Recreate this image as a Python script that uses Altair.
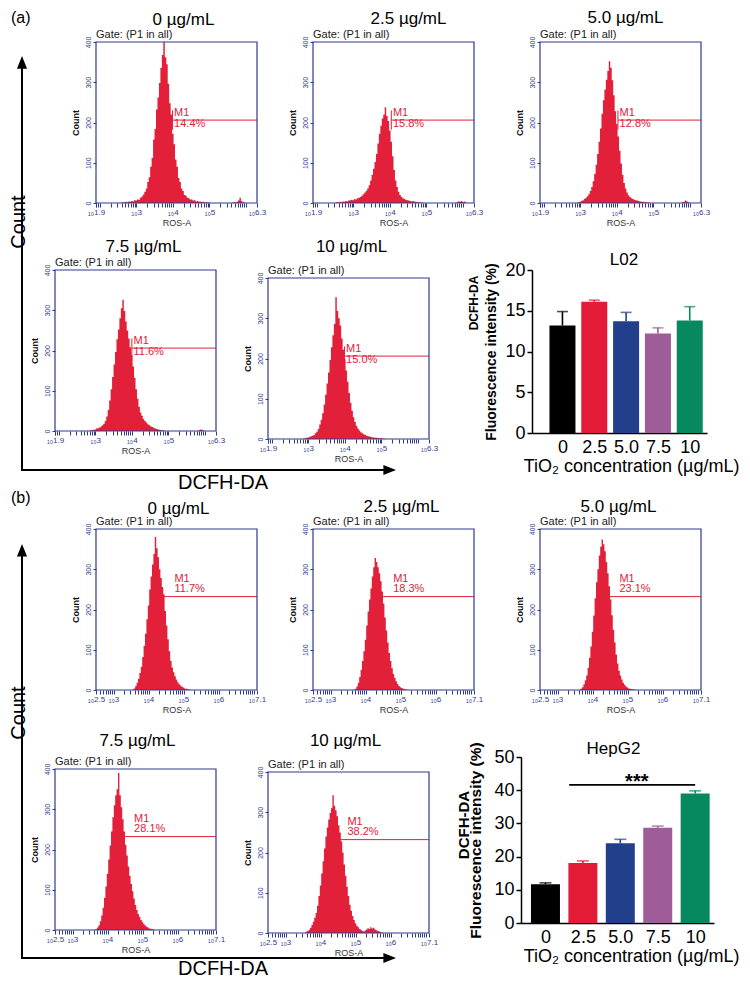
import altair as alt
import pandas as pd
import numpy as np

FONT = "Liberation Sans"
NAVY = "#2e3a8f"
RED = "#e2203a"
BIN = 0.04  # histogram channel width (log10 units)

# ---------------- histogram data (counts per 0.04-decade channel) ----------------
# panel (a): L02, x range 10^1.9 .. 10^6.3
a1_start, a1_counts = 2.60, [1, 2, 1, 3, 2, 4, 3, 5, 4, 7, 6, 9, 8, 13, 16, 21, 28, 36, 52, 64, 90, 112, 158, 184,
                             232, 262, 298, 336, 368, 400, 362, 345, 296, 248, 220, 172, 146, 108, 90, 62, 52, 36, 30,
                             20, 18, 13, 12, 9, 9, 6, 7, 4, 5, 3, 4, 2, 3, 1, 2, 1, 1, 0]
a1_bump_start, a1_bump = 5.60, [0, 1, 2, 1, 3, 6, 13, 5, 2, 1, 0]

a2_start, a2_counts = 2.52, [1, 2, 1, 3, 2, 4, 3, 5, 4, 6, 7, 8, 7, 10, 9, 12, 13, 15, 18, 22, 26, 30, 36, 44, 56,
                             70, 85, 102, 122, 148, 172, 192, 210, 220, 238, 216, 204, 180, 152, 116, 82, 56, 40, 28,
                             20, 15, 12, 10, 8, 7, 6, 5, 4, 5, 3, 3, 2, 2, 1, 1, 0]
a2_bump_start, a2_bump = 5.80, [0, 2, 4, 3, 5, 2, 4, 1, 0]

a3_start, a3_counts = 2.92, [1, 2, 3, 5, 7, 10, 13, 17, 22, 30, 40, 54, 72, 95, 122, 152, 185, 222, 255, 282, 306,
                             328, 352, 336, 305, 268, 228, 196, 165, 130, 98, 70, 50, 36, 26, 19, 15, 12, 10, 8, 7, 6,
                             5, 4, 3, 3, 2, 2, 1, 1, 0]
a3_bump_start, a3_bump = 5.76, [0, 2, 3, 6, 4, 2, 0]

a4_start, a4_counts = 2.84, [1, 2, 2, 3, 4, 6, 7, 9, 11, 14, 18, 25, 36, 52, 76, 104, 134, 165, 196, 228, 252, 280,
                             305, 326, 298, 272, 250, 230, 208, 188, 160, 132, 104, 80, 60, 46, 38, 30, 25, 21, 17, 14,
                             12, 10, 8, 6, 5, 4, 3, 2, 2, 1, 0]
a4_bump_start, a4_bump = 5.80, [0, 2, 4, 3, 1, 0]

a5_start, a5_counts = 2.88, [1, 2, 3, 4, 5, 7, 8, 10, 14, 18, 25, 36, 48, 64, 86, 110, 138, 165, 196, 228, 258, 286,
                             352, 318, 300, 282, 250, 222, 198, 170, 142, 114, 90, 70, 54, 42, 33, 26, 21, 17, 14, 12,
                             10, 8, 7, 6, 5, 4, 4, 3, 3, 2, 2, 2, 1, 1, 0]

# panel (b): HepG2, x range 10^2.5 .. 10^7.1
b1_start, b1_counts = 3.56, [1, 4, 10, 18, 28, 42, 58, 82, 110, 140, 176, 210, 250, 282, 312, 338, 380, 352, 330,
                             300, 278, 256, 238, 196, 160, 126, 96, 72, 56, 44, 34, 26, 19, 14, 11, 8, 6, 4, 3, 2, 1, 0]
b2_start, b2_counts = 3.68, [1, 3, 9, 18, 32, 50, 72, 96, 125, 160, 195, 225, 252, 282, 305, 328, 318, 305, 290,
                             270, 245, 215, 180, 148, 118, 92, 72, 54, 40, 30, 22, 15, 10, 7, 5, 3, 2, 1, 0]
b3_start, b3_counts = 3.64, [1, 3, 7, 14, 24, 36, 55, 80, 108, 145, 185, 228, 268, 300, 334, 356, 374, 362, 345,
                             318, 290, 258, 225, 186, 150, 118, 88, 66, 48, 36, 26, 18, 13, 9, 6, 4, 3, 2, 2, 1, 0]
b4_start, b4_counts = 3.64, [1, 2, 6, 12, 22, 36, 55, 80, 108, 140, 175, 210, 245, 280, 310, 335, 350, 390, 335,
                             305, 275, 245, 212, 185, 158, 135, 114, 96, 78, 62, 50, 40, 32, 25, 20, 15, 11, 8, 6, 4,
                             3, 2, 1, 0]
b5_start, b5_counts = 3.56, [1, 3, 5, 8, 13, 20, 28, 38, 50, 68, 92, 118, 148, 178, 210, 240, 262, 282, 298, 310,
                             342, 316, 305, 290, 268, 250, 228, 200, 170, 142, 115, 92, 70, 55, 42, 32, 24, 18, 14, 10,
                             8, 5, 4, 6, 9, 12, 10, 14, 11, 13, 9, 7, 5, 4, 2, 1, 0]

CONC_TITLES = ["0 µg/mL", "2.5 µg/mL", "5.0 µg/mL", "7.5 µg/mL", "10 µg/mL"]
A_PCT = ["14.4%", "15.8%", "12.8%", "11.6%", "15.0%"]
B_PCT = ["11.7%", "18.3%", "23.1%", "28.1%", "38.2%"]
A_GATES = [3.99, 4.04, 4.03, 4.00, 3.99]
B_GATES = [4.30, 4.30, 4.30, 4.35, 4.40]
B_LABEL_X = [4.74, 4.79, 4.77, 4.76, 4.77]
A_MAJOR = [1.9, 3, 4, 5, 6.3]
B_MAJOR = [2.5, 3, 4, 5, 6, 7.1]
COUNT_TICKS = [0, 100, 200, 300, 400]

# ---------------- bar chart data ----------------
CONC = ["0", "2.5", "5.0", "7.5", "10"]
BAR_COLORS = ["#000000", "#e31b37", "#223f8b", "#9e5c98", "#06895f"]
L02_MEAN = [13.2, 16.1, 13.7, 12.2, 13.8]
L02_ERR = [14.9, 16.3, 14.8, 12.9, 15.5]
HEP_MEAN = [11.7, 18.1, 24.0, 28.7, 39.0]
HEP_ERR = [12.1, 18.7, 25.2, 29.2, 39.8]

ONE = pd.DataFrame({"v": [0]})

# ---------------- layout (pixels) ----------------
PITCH_A1A2, PITCH_A2B1, PITCH_B1B2 = 228, 259, 228       # row-top to row-top of the 4 rows
TOP = {"A1": 28, "A2": 41, "B1": 33, "B2": 41}            # room kept above each row
BOT = {"A1": PITCH_A1A2 - TOP["A2"], "A2": PITCH_A2B1 - TOP["B1"],
       "B1": PITCH_B1B2 - TOP["B2"], "B2": 223}           # room kept below each row top
ROW_X = 45                                               # rows start this far right of the left strip
FRAME = 161                                              # histogram frame size


def log_ticks(lo, hi, majors):
    vals = set(majors)
    for n in range(1, 8):
        for k in range(1, 10):
            v = round(n + float(np.log10(k)), 3)
            if lo <= v <= hi:
                vals.add(v)
    return sorted(vals)


def text_at(txt, x, y, **kw):
    return alt.Chart(ONE).mark_text(text=txt, **kw).encode(x=alt.value(x), y=alt.value(y))


def hist(segments, domain, majors, gate, line_y, with_tick, label_x, label_y, pct, title, tdx, tgap, pad=0):
    rows = []
    for start, counts in segments:
        for i, c in enumerate(counts):
            rows.append({"x": round(start + i * BIN, 3), "c": c})
    df = pd.DataFrame(rows)
    H = FRAME + pad
    major_js = "[" + ",".join(str(m) for m in majors) + "]"
    X = alt.X("x:Q", scale=alt.Scale(domain=domain, nice=False, zero=False),
              axis=alt.Axis(values=log_ticks(domain[0], domain[1], majors),
                            labelExpr=f"indexof({major_js}, datum.value) >= 0 ? '\u2081\u2080' + datum.value : ''",
                            title="ROS-A", grid=False, domain=False, tickColor=NAVY, tickSize=4, tickWidth=1,
                            labelColor=NAVY, labelFontSize=8, labelPadding=1, labelOverlap=False,
                            labelFlush=False, titleColor="#333333", titleFontSize=9,
                            titleFontWeight="normal", titlePadding=2))
    yaxis = dict(values=COUNT_TICKS, labelAngle=270, grid=False, domain=False,
                 tickColor=NAVY, tickSize=3, labelColor=NAVY, labelFontSize=7,
                 labelPadding=2, title="Count", titleFontSize=9, titleFontWeight="bold",
                 titleColor="#111111", titlePadding=4)
    if pad:
        yaxis["titleY"] = pad + FRAME / 2
    Y = alt.Y("c:Q", scale=alt.Scale(domain=[0, 400 * H / FRAME], nice=False), axis=alt.Axis(**yaxis))
    layers = []
    gdf = pd.DataFrame({"x": [gate], "x2": [domain[1]], "c": [line_y]})
    layers.append(alt.Chart(gdf).mark_rule(color=RED, strokeWidth=1).encode(x=X, x2="x2:Q", y=Y))
    layers.append(alt.Chart(df).mark_area(interpolate="step", color=RED).encode(x=X, y=Y))
    if with_tick:
        tdf = pd.DataFrame({"x": [gate], "c": [line_y - 24], "c2": [line_y + 24]})
        layers.append(alt.Chart(tdf).mark_rule(color=RED, strokeWidth=1).encode(x=X, y=Y, y2="c2:Q"))
    ldf = pd.DataFrame({"x": [label_x], "c": [label_y], "t": ["M1\n" + pct]})
    layers.append(alt.Chart(ldf).mark_text(align="left", baseline="bottom", lineBreak="\n", fontSize=11,
                                           lineHeight=10.5, color=RED).encode(x=X, y=Y, text="t:N"))
    fdf = pd.DataFrame({"x": [domain[0]], "x2": [domain[1]], "c": [0], "c2": [400]})
    layers.append(alt.Chart(fdf).mark_rect(filled=False, color=NAVY, strokeWidth=1.2).encode(
        x=X, x2="x2:Q", y=Y, y2="c2:Q"))
    layers.append(text_at(title, 80.5 + tdx, pad - tgap, fontSize=17, align="center", baseline="alphabetic",
                          color="black"))
    layers.append(text_at("Gate: (P1 in all)", 0, pad - 4, fontSize=11, align="left", baseline="alphabetic",
                          color="#1a1a1a"))
    return alt.layer(*layers).properties(width=FRAME, height=H)


def bars(means, errs, title, ymax, ystep, xdomain, size, width, height, cap, yfs, dcfh_fs, dcfh_x, dcfh_y,
         title_x, title_y, xtitle_x, ytitle_pad, sig=None):
    df = pd.DataFrame({"pos": list(range(len(CONC))), "conc": CONC, "m": means})
    cdf = pd.DataFrame({"pos": list(range(len(CONC))), "conc": CONC, "m": errs})
    edf = pd.DataFrame({"pos": list(range(len(CONC))), "conc": CONC, "m": means, "e": errs})
    lab_expr = " : ".join(f"datum.value == {i} ? '{c}'" for i, c in enumerate(CONC)) + " : ''"
    X = alt.X("pos:Q", scale=alt.Scale(domain=xdomain, nice=False, zero=False),
              axis=alt.Axis(values=list(range(len(CONC))), labelExpr=lab_expr, ticks=False, tickSize=0,
                            grid=False, domainColor="black", domainWidth=1.5, labelFontSize=18,
                            labelColor="black", labelPadding=5, title="TiO\u2082 concentration (µg/mL)",
                            titleFontSize=18, titleFontWeight="normal", titleColor="black",
                            titlePadding=1, titleX=xtitle_x))
    Y = alt.Y("m:Q", scale=alt.Scale(domain=[0, ymax], nice=False),
              axis=alt.Axis(values=list(range(0, ymax + 1, ystep)), grid=False, domainColor="black",
                            domainWidth=1.5, tickColor="black", tickWidth=1.5, tickSize=5,
                            labelFontSize=18, labelColor="black", labelPadding=2,
                            title="Fluorescence intensity (%)", titleFontSize=yfs, titleFontWeight="bold",
                            titleColor="black", titlePadding=ytitle_pad))
    C = alt.Color("conc:N", scale=alt.Scale(domain=CONC, range=BAR_COLORS), legend=None)
    layers = [
        alt.Chart(edf).mark_rule(strokeWidth=1.6).encode(x=X, y=Y, y2="e:Q", color=C),
        alt.Chart(cdf).mark_tick(orient="horizontal", size=cap, thickness=1.6).encode(x=X, y=Y, color=C),
        alt.Chart(df).mark_bar(size=size).encode(x=X, y=Y, color=C),
    ]
    if sig is not None:
        x0, x1, yl, xt, yt = sig
        sdf = pd.DataFrame({"pos": [x0], "pos2": [x1], "m": [yl]})
        layers.append(alt.Chart(sdf).mark_rule(color="black", strokeWidth=1.6).encode(x=X, x2="pos2:Q", y=Y))
        tdf = pd.DataFrame({"pos": [xt], "m": [yt], "t": ["***"]})
        layers.append(alt.Chart(tdf).mark_text(fontSize=20, fontWeight="bold", baseline="alphabetic",
                                               color="black").encode(x=X, y=Y, text="t:N"))
    layers.append(text_at(title, title_x, title_y, fontSize=17, align="center", baseline="alphabetic",
                          color="black"))
    layers.append(text_at("DCFH-DA", dcfh_x, dcfh_y, fontSize=dcfh_fs, fontWeight="bold", angle=270,
                          align="center", baseline="middle", color="black"))
    return alt.layer(*layers).properties(width=width, height=height)


UP = "M0,-1L0.8,1L-0.8,1Z"
RIGHT = "M1,0L-1,0.8L-1,-0.8Z"


def row_start(w, key, arrow_y=None, label_y=None):
    """Invisible first cell of a row: fixes how much room the row keeps above and below.
    The bottom rows also carry the horizontal 'DCFH-DA' arrow."""
    base = alt.Chart(ONE)
    layers = [base.mark_rule(opacity=0, strokeWidth=1).encode(
        x=alt.value(0), y=alt.value(-TOP[key] + 0.5), y2=alt.value(BOT[key] - 0.5))]
    if arrow_y is not None:
        layers += [
            base.mark_rule(color="black", strokeWidth=2).encode(x=alt.value(21 - 8 - ROW_X - 1),
                                                                 x2=alt.value(386 - 8 - ROW_X),
                                                                 y=alt.value(arrow_y)),
            base.mark_point(shape=RIGHT, size=160, filled=True, color="black", opacity=1).encode(
                x=alt.value(395 - 8 - ROW_X - 6.3), y=alt.value(arrow_y)),
            text_at("DCFH-DA", 222 - 8 - ROW_X, label_y, fontSize=20, align="center", baseline="alphabetic",
                    color="black"),
        ]
    return alt.layer(*layers).properties(width=w, height=1)


def spacer(w):
    return alt.Chart(ONE).mark_point(opacity=0).encode(x=alt.value(0), y=alt.value(0)).properties(
        width=w, height=1)


ARROW_A2, ARROW_B2 = 200, 201      # horizontal arrow height below row tops A2 / B2


def left_strip():
    """Panel tags and the vertical 'Count' arrows (coordinates relative to the first row top)."""
    base = alt.Chart(ONE)
    yA2 = PITCH_A1A2
    yB1 = PITCH_A1A2 + PITCH_A2B1
    yB2 = yB1 + PITCH_B1B2
    layers = []
    for tag, tag_y, tip_y, count_y, end_y in [("(a)", -19, 14, 180, yA2 + ARROW_A2),
                                               ("(b)", yB1 - 26, yB1 + 15, yB1 + 184, yB2 + ARROW_B2)]:
        layers += [
            text_at(tag, 2, tag_y, fontSize=16, align="left", baseline="alphabetic", color="black"),
            base.mark_rule(color="black", strokeWidth=2).encode(x=alt.value(13), y=alt.value(tip_y + 10),
                                                                 y2=alt.value(end_y + 1)),
            base.mark_point(shape=UP, size=160, filled=True, color="black", opacity=1).encode(
                x=alt.value(13), y=alt.value(tip_y + 6.3)),
            text_at("Count", 10, count_y, fontSize=20, angle=270, align="center", baseline="middle",
                    color="black"),
        ]
    return alt.layer(*layers).properties(width=ROW_X, height=1)


def HC(*c, s=0):
    return alt.hconcat(*c, spacing=s, bounds="flush")


A_SEGS = [[(a1_start, a1_counts), (a1_bump_start, a1_bump)],
          [(a2_start, a2_counts), (a2_bump_start, a2_bump)],
          [(a3_start, a3_counts), (a3_bump_start, a3_bump)],
          [(a4_start, a4_counts), (a4_bump_start, a4_bump)],
          [(a5_start, a5_counts)]]
B_SEGS = [[(b1_start, b1_counts)], [(b2_start, b2_counts)], [(b3_start, b3_counts)],
          [(b4_start, b4_counts)], [(b5_start, b5_counts)]]
A_DX, A_GAP, A_PAD = [7, 15, 5, 8, 3], [17, 18, 19, 18, 26], [0, 0, 0, 0, 8]
B_DX, B_GAP, B_PAD = [2, 8, -2, 2, -3], [15, 17, 17, 23, 26], [0, 0, 0, 12, 15]

ha = [hist(A_SEGS[i], [1.9, 6.3], A_MAJOR, A_GATES[i], 206, True, A_GATES[i] + 0.045, 210, A_PCT[i],
           CONC_TITLES[i], A_DX[i], A_GAP[i], A_PAD[i]) for i in range(5)]
hb = [hist(B_SEGS[i], [2.5, 7.1], B_MAJOR, B_GATES[i], 232, False, B_LABEL_X[i], 264, B_PCT[i],
           CONC_TITLES[i], B_DX[i], B_GAP[i], B_PAD[i]) for i in range(5)]

bar_a = bars(L02_MEAN, L02_ERR, "L02", 20, 5, [-0.8, 4.385], 26, 175, 163, 11, 14, 12, -58, 33,
             92, -5, 99, 6)
bar_b = bars(HEP_MEAN, HEP_ERR, "HepG2", 50, 10, [-0.52, 4.37], 29, 193, 166, 12, 15.5, 15, -57, 68,
             92.5, -3, 110, 10, sig=(0.633, 4.0, 41.6, 2.44, 40.7))

row_a1 = HC(row_start(42, "A1"), ha[0], spacer(56), ha[1], spacer(66), ha[2])
row_a2 = HC(row_start(1, "A2", ARROW_A2, 219), ha[3], spacer(52), ha[4], spacer(103), bar_a)
row_b1 = HC(row_start(42, "B1"), hb[0], spacer(56), hb[1], spacer(66), hb[2])
row_b2 = HC(row_start(1, "B2", ARROW_B2, 218), hb[3], spacer(52), hb[4], spacer(92), bar_b)

rows = alt.vconcat(row_a1, row_a2, row_b1, row_b2, spacing=0, bounds="full")

chart = alt.hconcat(left_strip(), rows, spacing=0, bounds="flush").properties(
    padding=0, background="white"
).configure(font=FONT).configure_view(stroke="transparent")

chart.save("out.html", embed_options={"renderer": "svg", "actions": False})
